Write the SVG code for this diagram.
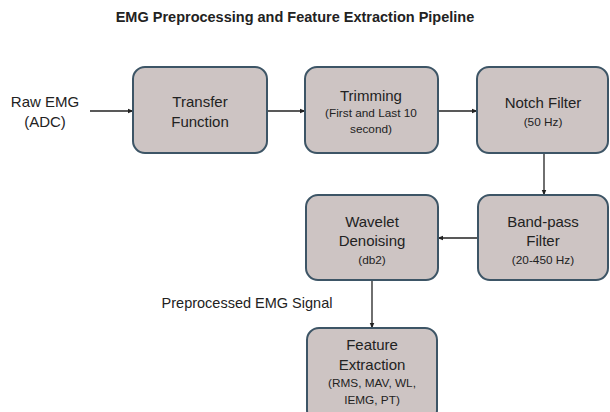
<svg xmlns="http://www.w3.org/2000/svg" width="610" height="412" viewBox="0 0 610 412">
  <style>
    .box { fill: #cdc4c3; stroke: #3d5566; stroke-width: 2; }
    .t { font-family: "Liberation Sans", Arial, sans-serif; fill: #222; text-anchor: middle; }
    .h { font-size: 15px; }
    .s { font-size: 11.8px; }
    .edge { stroke: #222; stroke-width: 1.3; fill: none; marker-end: url(#arr); }
  </style>
  <defs>
    <marker id="arr" viewBox="0 0 10 10" refX="9" refY="5" markerWidth="6" markerHeight="6" orient="auto" markerUnits="userSpaceOnUse">
      <path d="M0,1 L10,5 L0,9 z" fill="#222"/>
    </marker>
  </defs>
  <rect width="610" height="412" fill="#ffffff"/>

  <text class="t" x="295" y="22" font-size="14.5" font-weight="bold">EMG Preprocessing and Feature Extraction Pipeline</text>

  <g id="raw-emg">
    <text class="t h" x="45" y="107">Raw EMG</text>
    <text class="t h" x="45" y="127">(ADC)</text>
  </g>

  <g id="connectors">
    <line class="edge" x1="90" y1="111" x2="133" y2="111"/>
    <line class="edge" x1="267" y1="111" x2="305" y2="111"/>
    <line class="edge" x1="438" y1="111" x2="477" y2="111"/>
    <line class="edge" x1="544" y1="153" x2="544" y2="195"/>
    <line class="edge" x1="478" y1="238" x2="438" y2="238"/>
    <line class="edge" x1="372" y1="280" x2="372" y2="328"/>
  </g>

  <g id="transfer-function">
    <rect class="box" x="133" y="67" width="134" height="86" rx="12"/>
    <text class="t h" x="200" y="107">Transfer</text>
    <text class="t h" x="200" y="127">Function</text>
  </g>

  <g id="trimming">
    <rect class="box" x="305" y="67" width="133" height="86" rx="12"/>
    <text class="t h" x="371" y="101">Trimming</text>
    <text class="t s" x="371" y="117">(First and Last 10</text>
    <text class="t s" x="371" y="133">second)</text>
  </g>

  <g id="notch-filter">
    <rect class="box" x="477" y="67" width="131" height="86" rx="12"/>
    <text class="t h" x="543" y="108">Notch Filter</text>
    <text class="t s" x="543" y="126">(50 Hz)</text>
  </g>

  <g id="band-pass-filter">
    <rect class="box" x="478" y="195" width="130" height="85" rx="12"/>
    <text class="t h" x="543" y="227">Band-pass</text>
    <text class="t h" x="543" y="246">Filter</text>
    <text class="t s" x="543" y="264">(20-450  Hz)</text>
  </g>

  <g id="wavelet-denoising">
    <rect class="box" x="306" y="195" width="132" height="85" rx="12"/>
    <text class="t h" x="372" y="227">Wavelet</text>
    <text class="t h" x="372" y="246">Denoising</text>
    <text class="t s" x="372" y="264">(db2)</text>
  </g>

  <g id="preprocessed-label">
    <text class="t" x="247" y="308" font-size="14.5">Preprocessed EMG Signal</text>
  </g>

  <g id="feature-extraction">
    <rect class="box" x="307" y="328" width="130" height="94" rx="12"/>
    <text class="t h" x="372" y="350">Feature</text>
    <text class="t h" x="372" y="370">Extraction</text>
    <text class="t s" x="372" y="387">(RMS, MAV, WL,</text>
    <text class="t s" x="372" y="404">IEMG, PT)</text>
  </g>
</svg>
